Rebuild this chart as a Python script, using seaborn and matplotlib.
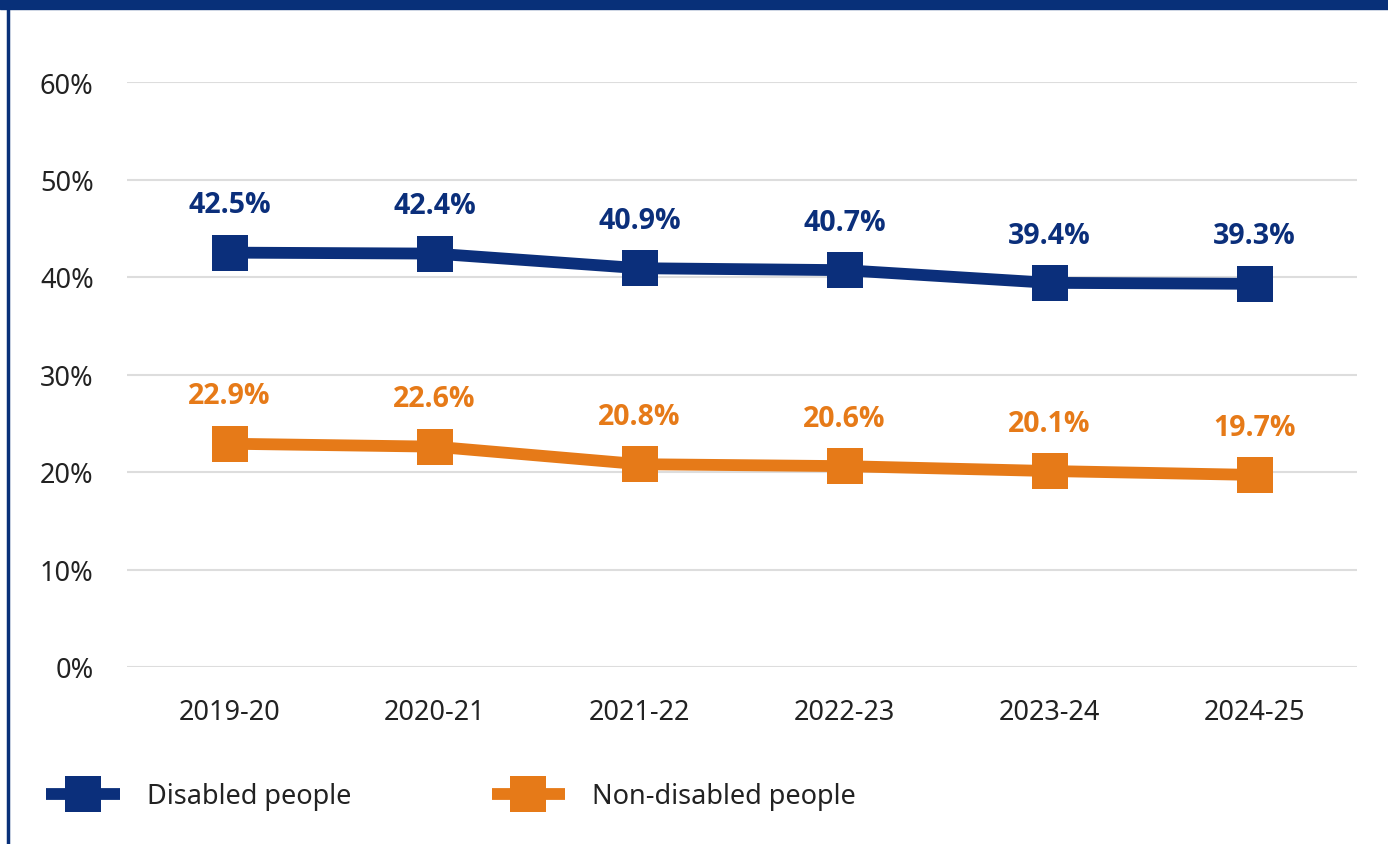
import matplotlib
matplotlib.use("Agg")
import matplotlib.pyplot as plt
import seaborn as sns
import pandas as pd
from matplotlib.patches import Rectangle
from matplotlib.lines import Line2D

years = ["2019-20", "2020-21", "2021-22", "2022-23", "2023-24", "2024-25"]
disabled = [42.5, 42.4, 40.9, 40.7, 39.4, 39.3]
non_disabled = [22.9, 22.6, 20.8, 20.6, 20.1, 19.7]
series_names = ["Disabled people", "Non-disabled people"]
y_ticks = [0, 10, 20, 30, 40, 50, 60]

NAVY = "#0b2f7b"
ORANGE = "#e67a18"

sns.set_theme(style="white")
plt.rcParams["font.family"] = ["Noto Sans", "DejaVu Sans"]

df = pd.DataFrame({
    "year": years * 2,
    "pos": list(range(len(years))) * 2,
    "value": disabled + non_disabled,
    "group": [series_names[0]] * len(years) + [series_names[1]] * len(years),
})

fig = plt.figure(figsize=(13.88, 8.45), dpi=100)
ax = fig.add_axes([127/1388, 1 - 668/845, (1357-127)/1388, (668-83)/845])

sns.lineplot(data=df, x="pos", y="value", hue="group",
             palette={series_names[0]: NAVY, series_names[1]: ORANGE},
             marker="s", markersize=26.5, linewidth=8.5, markeredgewidth=0,
             solid_capstyle="butt", solid_joinstyle="miter",
             ax=ax, legend=True, zorder=3)

ax.set_xlim(-0.5, len(years) - 0.5)
ax.set_ylim(0, 60)
ax.set_yticks(y_ticks)
ax.set_yticklabels([f"{t}%" for t in y_ticks])
ax.set_xticks(range(len(years)))
ax.set_xticklabels(years)
ax.set_xlabel("")
ax.set_ylabel("")
ax.tick_params(axis="both", labelsize=19.5, colors="#222222", length=0)
ax.tick_params(axis="y", pad=24)
ax.tick_params(axis="x", pad=22)
ax.yaxis.grid(True, color="#dddddd", linewidth=1.5, zorder=0)
ax.set_axisbelow(True)
for s in ax.spines.values():
    s.set_visible(False)

for vals, col in [(disabled, NAVY), (non_disabled, ORANGE)]:
    for i, v in enumerate(vals):
        ax.annotate(f"{v}%", (i, v), xytext=(0, 24), textcoords="offset points",
                    ha="center", va="bottom", fontsize=20.5, fontweight="bold",
                    family=["Open Sans", "DejaVu Sans"], color=col)

handles, labels = ax.get_legend_handles_labels()
ax.get_legend().remove()
leg_handles = [Line2D([], [], color=c, linewidth=8.5, marker="s", markersize=26.5,
                      markeredgewidth=0, solid_capstyle="butt") for c in (NAVY, ORANGE)]
fig.legend(leg_handles, labels, loc="center left",
           bbox_to_anchor=(22/1388, 1 - 797/845), ncol=2, frameon=False,
           fontsize=19.5, handlelength=2.7, handletextpad=1.0,
           columnspacing=5.2, labelcolor="#222222")

# frame decorations
fig.patches.append(Rectangle((0, 1 - 10/845), 1, 10/845, transform=fig.transFigure,
                             color="#083079", zorder=10))
fig.lines.append(Line2D([8/1388, 8/1388], [0, 1], transform=fig.transFigure,
                        color="#083079", linewidth=2.5, zorder=10))

fig.savefig("out.png", dpi=100)
